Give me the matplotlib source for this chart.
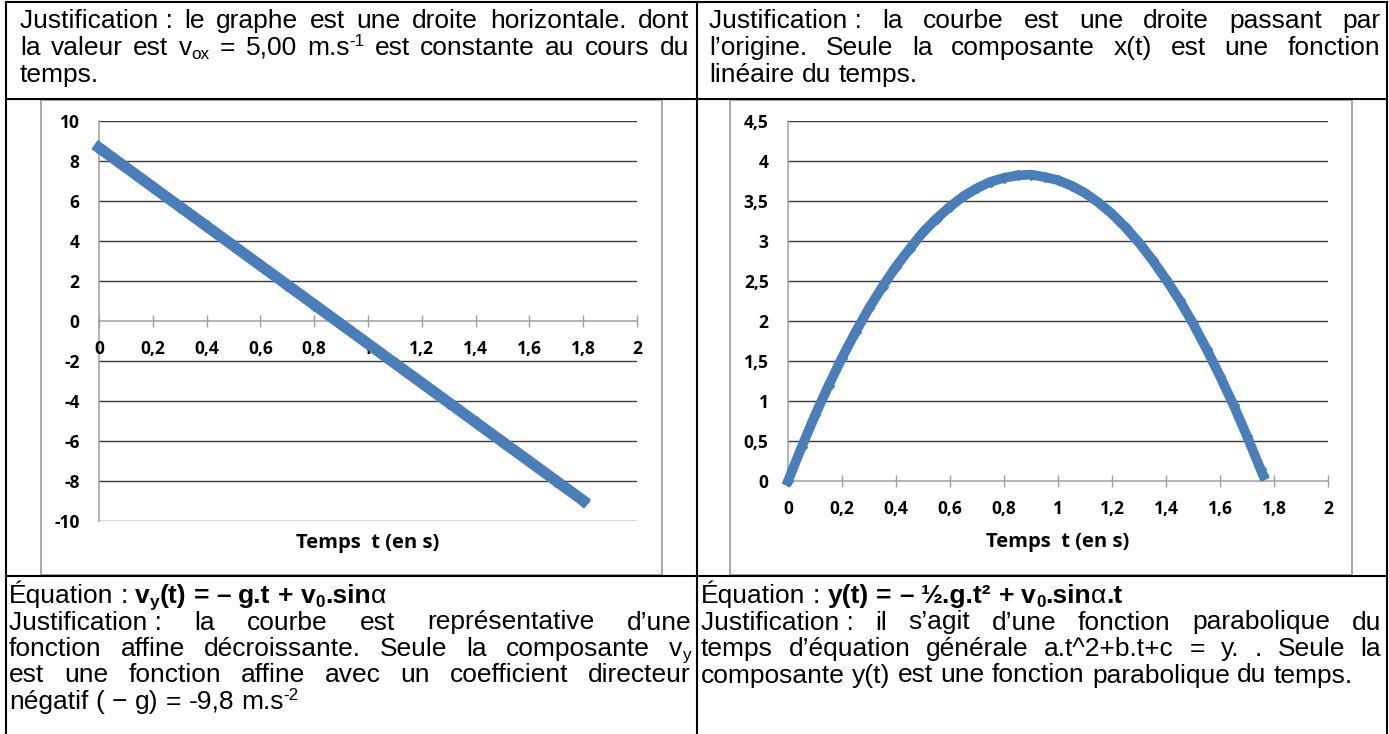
"""
Tableau : graphes v_y(t) et y(t) avec justifications
"""

import matplotlib
matplotlib.use('Agg')
import matplotlib.pyplot as plt
from matplotlib.patches import Rectangle

W, H = 1389, 734
BLUE = '#4A7EBB'
BODY = 'Liberation Sans'
CHART_FONT = 'Open Sans'
FS = 19
NB = '\u00a0'  # espace insecable avant les deux-points

t_vy = [0.0, 0.1, 0.2, 0.3, 0.4, 0.5, 0.6, 0.7, 0.8, 0.9,
        1.0, 1.1, 1.2, 1.3, 1.4, 1.5, 1.6, 1.7, 1.8]
vy = [8.66, 7.68, 6.70, 5.72, 4.74, 3.76, 2.78, 1.80, 0.82, -0.16,
      -1.14, -2.12, -3.10, -4.08, -5.06, -6.04, -7.02, -8.00, -8.98]

t_y = [0.0, 0.05, 0.10, 0.15, 0.20, 0.25, 0.30, 0.35, 0.40, 0.45,
       0.50, 0.55, 0.60, 0.65, 0.70, 0.75, 0.80, 0.85, 0.90, 0.95,
       1.00, 1.05, 1.10, 1.15, 1.20, 1.25, 1.30, 1.35, 1.40, 1.45,
       1.50, 1.55, 1.60, 1.65, 1.70, 1.75, 1.76]
y_pos = [0.0, 0.42, 0.82, 1.19, 1.54, 1.86, 2.16, 2.43, 2.68, 2.90,
         3.11, 3.28, 3.43, 3.56, 3.66, 3.74, 3.79, 3.82, 3.83, 3.80,
         3.76, 3.69, 3.60, 3.48, 3.34, 3.17, 2.98, 2.76, 2.52, 2.26,
         1.97, 1.65, 1.31, 0.95, 0.56, 0.15, 0.07]

x_ticks = [0, 0.2, 0.4, 0.6, 0.8, 1.0, 1.2, 1.4, 1.6, 1.8, 2.0]
x_ticklabels = ['0', '0,2', '0,4', '0,6', '0,8', '1', '1,2', '1,4', '1,6', '1,8', '2']
vy_ticks = [-10, -8, -6, -4, -2, 0, 2, 4, 6, 8, 10]
y_ticks = [0, 0.5, 1, 1.5, 2, 2.5, 3, 3.5, 4, 4.5]
y_ticklabels = ['0', '0,5', '1', '1,5', '2', '2,5', '3', '3,5', '4', '4,5']
xlabel = 'Temps  t (en s)'

# --- textes du tableau : (lignes, justifiee ?) ---
text_tl = [
    ([("Justification" + NB + ": le graphe est une droite horizontale. dont", 'n')], True),
    ([("la valeur est v", 'n'), ("ox", 'sub'), (" = 5,00 m.s", 'n'), ("-1", 'sup'),
      ("  est constante au cours du", 'n')], True),
    ([("temps.", 'n')], False),
]
text_tr = [
    ([("Justification" + NB + ": la courbe est une droite passant par", 'n')], True),
    ([("l’origine. Seule la composante x(t) est une fonction", 'n')], True),
    ([("linéaire du temps.", 'n')], False),
]
text_bl = [
    ([("Équation : ", 'n'), ("v", 'b'), ("y", 'bsub'), ("(t) = – g.t + v", 'b'),
      ("0", 'bsub'), (".sin", 'b'), ("α", 'n')], False),
    ([("Justification" + NB + ": la courbe est représentative d’une", 'n')], True),
    ([("fonction affine décroissante. Seule la composante v", 'n'), ("y", 'sub')], True),
    ([("est une fonction affine avec un coefficient directeur", 'n')], True),
    ([("négatif ( − g) = -9,8 m.s", 'n'), ("-2", 'sup')], False),
]
text_br = [
    ([("Équation : ", 'n'), ("y(t) = – ½.g.t² + v", 'b'), ("0", 'bsub'),
      (".sin", 'b'), ("α", 'n'), (".t", 'b')], False),
    ([("Justification" + NB + ": il s’agit d’une fonction parabolique du", 'n')], True),
    ([("temps d’équation générale a.t^2+b.t+c = y. . Seule la", 'n')], True),
    ([("composante y(t) est une fonction parabolique du temps.", 'n')], False),
]

STYLE = {
    'n': (FS, 'normal', 0),
    'b': (FS, 'bold', 0),
    'sub': (FS * 0.65, 'normal', 4),
    'bsub': (FS * 0.65, 'bold', 4),
    'sup': (FS * 0.65, 'normal', -9),
}


def frac(l, t, r, b):
    return [l / W, 1 - b / H, (r - l) / W, (b - t) / H]


fig = plt.figure(figsize=(W / 100, H / 100), dpi=100)
fig.patch.set_facecolor('white')
bg = fig.add_axes([0, 0, 1, 1])
bg.set_xlim(0, W)
bg.set_ylim(H, 0)
bg.axis('off')
renderer = fig.canvas.get_renderer()


def run_width(txt, st):
    size, wt, _ = STYLE[st]
    t = bg.text(0, 0, txt, fontsize=size, fontweight=wt, family=BODY)
    w = t.get_window_extent(renderer).width
    t.remove()
    return w


SPACE = run_width('n n', 'n') - run_width('nn', 'n')


def split_words(runs):
    words = [[]]
    for txt, st in runs:
        parts = txt.split(' ')
        for i, p in enumerate(parts):
            if i > 0:
                words.append([])
            if p:
                words[-1].append((p, st))
    return [w for w in words if w]


def draw_word(x, y, word):
    for txt, st in word:
        size, wt, dy = STYLE[st]
        t = bg.text(x, y + dy, txt, fontsize=size, fontweight=wt, family=BODY,
                    ha='left', va='baseline', color='black')
        x += t.get_window_extent(renderer).width
    return x


def draw_paragraph(lines, x0, x1, y0, pitch):
    for k, (runs, justify) in enumerate(lines):
        y = y0 + k * pitch
        words = split_words(runs)
        widths = [sum(run_width(txt, st) for txt, st in w) for w in words]
        gap = SPACE
        if justify and len(words) > 1:
            gap = (x1 - x0 - sum(widths)) / (len(words) - 1)
        x = x0
        for w, wd in zip(words, widths):
            draw_word(x, y, w)
            x += wd + gap


# --- cadre du tableau ---
LW = 1.5
for yy in [2, 99, 576]:
    bg.plot([6, 1387], [yy, yy], color='black', lw=LW, solid_capstyle='projecting')
for xx in [6, 697, 1387]:
    bg.plot([xx, xx], [2, H], color='black', lw=LW)

# cadres des graphiques
for l, r in [(41, 662), (730, 1352)]:
    bg.add_patch(Rectangle((l, 100), r - l, 475, fill=False, ec='#A0A0A0', lw=1.3))

draw_paragraph(text_tl, 20, 689, 28, 27)
draw_paragraph(text_tr, 709, 1380, 28, 27)
draw_paragraph(text_bl, 9, 691, 603, 26.5)
draw_paragraph(text_br, 701, 1381, 603, 26.5)


def style_axes(ax, yticks, yticklabels, zero_axis):
    ax.set_xlim(0, 2)
    ax.set_xticks(x_ticks)
    ax.set_xticklabels(x_ticklabels)
    ax.set_yticks(yticks)
    ax.set_yticklabels(yticklabels)
    for yy in yticks:
        if yy != 0:
            ax.axhline(yy, color='#3A3A3A', lw=1.0, zorder=1)
    for s in ['top', 'right']:
        ax.spines[s].set_visible(False)
    for s in ['left', 'bottom']:
        ax.spines[s].set_color('#A0A0A0')
        ax.spines[s].set_linewidth(1.1)
        ax.spines[s].set_zorder(1)
    if zero_axis:
        ax.spines['bottom'].set_position(('data', 0))
    ax.tick_params(axis='x', direction='inout', length=9, width=1,
                   color='#A0A0A0', pad=9.5, labelsize=12.5)
    ax.tick_params(axis='y', length=0, pad=14, labelsize=12.5)
    for lbl in ax.get_xticklabels() + ax.get_yticklabels():
        lbl.set_fontfamily(CHART_FONT)
        lbl.set_fontweight('bold')
    ax.patch.set_alpha(0)


# --- graphe v_y(t) ---
ax1 = fig.add_axes(frac(99, 121, 637, 521))
ax1.set_ylim(-10, 10)
style_axes(ax1, vy_ticks, [str(v) for v in vy_ticks], True)
ax1.plot(t_vy, vy, color=BLUE, lw=8, marker='D', ms=6.5,
         mfc=BLUE, mec=BLUE, clip_on=False, zorder=3)
bg.text(368, 543, xlabel, ha='center', va='center', fontsize=14.5,
        fontweight='bold', family=CHART_FONT)

# --- graphe y(t) ---
ax2 = fig.add_axes(frac(788, 121, 1328, 481))
ax2.set_ylim(0, 4.5)
style_axes(ax2, y_ticks, y_ticklabels, False)
ax2.plot(t_y, y_pos, color=BLUE, lw=7, marker='D', ms=5.5,
         mfc=BLUE, mec=BLUE, clip_on=False, zorder=3)
bg.text(1058, 542, xlabel, ha='center', va='center', fontsize=14.5,
        fontweight='bold', family=CHART_FONT)

fig.savefig('out.png', dpi=100, facecolor='white')
plt.close(fig)
